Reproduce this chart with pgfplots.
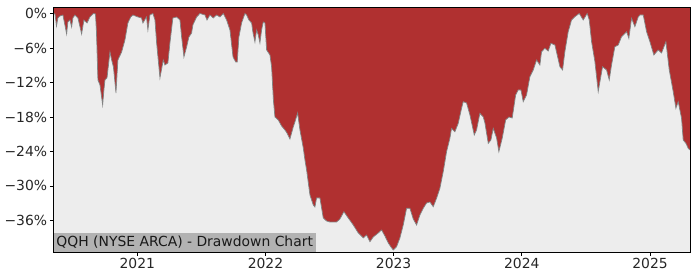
\documentclass[border=0pt]{standalone}
\usepackage{pgfplots}
\usepackage{pgfplotstable}
\pgfplotsset{compat=1.18}
\usepackage{fontspec}
\setmainfont{DejaVu Sans}
\definecolor{ddred}{RGB}{176,48,48}
\definecolor{ddbg}{RGB}{237,237,237}
\definecolor{ddedge}{RGB}{130,130,130}
\definecolor{ddlab}{RGB}{178,178,178}
\pgfplotstableread{
x y
2020.345 -41.55
2020.345 0
2020.358 -0.09
2020.370 -2.18
2020.381 -0.78
2020.397 -0.44
2020.420 -0.26
2020.449 -3.57
2020.459 -1.48
2020.475 -1.13
2020.488 -2.35
2020.498 -0.78
2020.514 -0.26
2020.537 -0.78
2020.566 -3.57
2020.584 -1.13
2020.608 -1.65
2020.631 -0.61
2020.658 0
2020.674 -0.09
2020.682 -3.39
2020.693 -11.57
2020.709 -12.44
2020.730 -15.92
2020.740 -13.31
2020.748 -11.57
2020.764 -11.22
2020.787 -6.70
2020.800 -8.09
2020.814 -9.31
2020.834 -13.83
2020.849 -8.09
2020.878 -6.70
2020.904 -4.61
2020.927 -1.65
2020.949 -0.61
2020.966 -0.26
2021.005 -0.61
2021.033 -0.78
2021.044 -1.65
2021.072 -0.61
2021.083 -2.87
2021.099 -0.26
2021.122 0
2021.138 -1.13
2021.151 -5.13
2021.177 -11.22
2021.203 -8.09
2021.216 -8.96
2021.239 -8.61
2021.255 -5.13
2021.278 -0.78
2021.307 -0.61
2021.333 -1.13
2021.346 -4.09
2021.364 -7.57
2021.385 -5.83
2021.403 -4.09
2021.424 -3.39
2021.434 -2.00
2021.463 -0.61
2021.489 0
2021.528 -0.26
2021.544 -1.13
2021.567 -0.26
2021.593 -0.78
2021.619 -0.26
2021.645 -0.61
2021.671 0
2021.697 -1.13
2021.723 -2.87
2021.747 -7.57
2021.768 -8.44
2021.780 -8.44
2021.793 -4.09
2021.814 -1.65
2021.840 0
2021.853 -0.26
2021.871 -1.13
2021.892 -1.65
2021.903 -3.39
2021.918 -4.96
2021.931 -2.87
2021.944 -3.74
2021.957 -5.13
2021.970 -2.87
2021.983 -1.48
2021.996 -1.65
2022.009 -6.35
2022.035 -7.22
2022.048 -9.31
2022.062 -15.05
2022.074 -18.01
2022.100 -18.53
2022.126 -19.58
2022.152 -20.27
2022.168 -20.79
2022.191 -21.84
2022.217 -19.75
2022.230 -18.88
2022.251 -17.31
2022.269 -20.27
2022.295 -23.40
2022.308 -25.49
2022.321 -27.23
2022.347 -31.58
2022.373 -33.32
2022.386 -33.67
2022.399 -32.10
2022.425 -32.10
2022.451 -35.58
2022.477 -36.11
2022.503 -36.28
2022.555 -36.28
2022.581 -35.76
2022.612 -34.49
2022.646 -35.58
2022.685 -36.80
2022.724 -38.19
2022.763 -39.06
2022.789 -38.54
2022.815 -39.71
2022.841 -38.89
2022.880 -38.19
2022.906 -37.67
2022.932 -38.72
2022.958 -39.93
2022.979 -40.63
2022.997 -41.15
2023.023 -40.58
2023.049 -39.06
2023.075 -36.80
2023.101 -33.90
2023.127 -33.90
2023.153 -35.76
2023.179 -36.80
2023.205 -35.06
2023.231 -33.90
2023.257 -32.97
2023.283 -32.80
2023.309 -33.62
2023.335 -32.16
2023.361 -30.42
2023.387 -27.53
2023.413 -24.05
2023.439 -21.72
2023.452 -19.98
2023.478 -20.57
2023.504 -19.11
2023.530 -16.50
2023.543 -15.35
2023.569 -15.57
2023.595 -17.66
2023.629 -21.14
2023.647 -20.27
2023.673 -17.37
2023.699 -18.01
2023.712 -19.05
2023.738 -22.59
2023.759 -22.01
2023.777 -19.98
2023.803 -21.66
2023.821 -24.05
2023.847 -21.72
2023.874 -18.53
2023.899 -18.01
2023.925 -18.18
2023.952 -14.18
2023.972 -13.31
2023.993 -13.31
2024.011 -15.35
2024.037 -14.18
2024.063 -11.00
2024.089 -9.83
2024.115 -8.09
2024.141 -8.96
2024.154 -6.65
2024.180 -6.06
2024.206 -6.53
2024.227 -5.19
2024.258 -5.48
2024.297 -9.26
2024.318 -9.83
2024.336 -6.65
2024.362 -3.17
2024.388 -1.13
2024.414 -0.56
2024.448 0
2024.479 -1.13
2024.510 0
2024.526 -1.13
2024.544 -4.91
2024.570 -8.39
2024.596 -13.61
2024.609 -11.92
2024.630 -9.26
2024.661 -9.83
2024.682 -11.57
2024.700 -8.96
2024.726 -5.78
2024.752 -5.48
2024.778 -4.04
2024.817 -3.17
2024.835 -4.32
2024.856 -0.84
2024.882 -2.30
2024.908 -0.61
2024.921 -0.26
2024.947 -0.26
2024.973 -3.17
2024.999 -4.91
2025.030 -7.22
2025.064 -6.35
2025.090 -6.87
2025.124 -4.91
2025.150 -9.83
2025.181 -13.61
2025.202 -16.50
2025.220 -15.35
2025.246 -18.24
2025.259 -22.01
2025.280 -22.59
2025.298 -23.46
2025.311 -23.75
2025.311 -41.55
}\ddtable
\begin{document}
\begin{tikzpicture}
\path[use as bounding box] (-53.3bp,-27.7bp) rectangle (646.7bp,252.3bp);
\begin{axis}[
  at={(0,0)}, anchor=south west,
  scale only axis, width=636.7bp, height=245bp,
  xmin=2020.345, xmax=2025.312,
  ymin=-41.55, ymax=1.08,
  axis background/.style={fill=ddred},
  axis line style={black, line width=0.8bp},
  tick align=outside, major tick length=3.5bp,
  tick style={black, line width=0.8bp},
  xtick={2021,2022,2023,2024,2025},
  xticklabels={2021,2022,2023,2024,2025},
  ytick={-36,-30,-24,-18,-12,-6,0},
  yticklabels={−36\%,−30\%,−24\%,−18\%,−12\%,−6\%,0\%},
  ticklabel style={font=\fontsize{13.9bp}{16bp}\selectfont, text=black!85},
  yticklabel style={inner xsep=2.5bp},
  xticklabel style={inner ysep=2.5bp},
  xtick pos=bottom, ytick pos=left,
  axis on top,
]
\addplot[fill=ddbg, draw=none] table[x=x, y=y] {\ddtable} -- cycle;
\addplot[ddedge, line width=0.7bp, skip coords between index={0}{1}, skip coords between index={224}{225}] table[x=x, y=y] {\ddtable};
\node[anchor=south west, fill=ddlab, inner xsep=3bp, inner ysep=3bp, text height=10.5bp, text depth=3.1bp,
  font=\fontsize{13.9bp}{16bp}\selectfont, text=black!90] at (rel axis cs:0,0) {QQH (NYSE ARCA) - Drawdown Chart};
\end{axis}
\end{tikzpicture}
\end{document}
